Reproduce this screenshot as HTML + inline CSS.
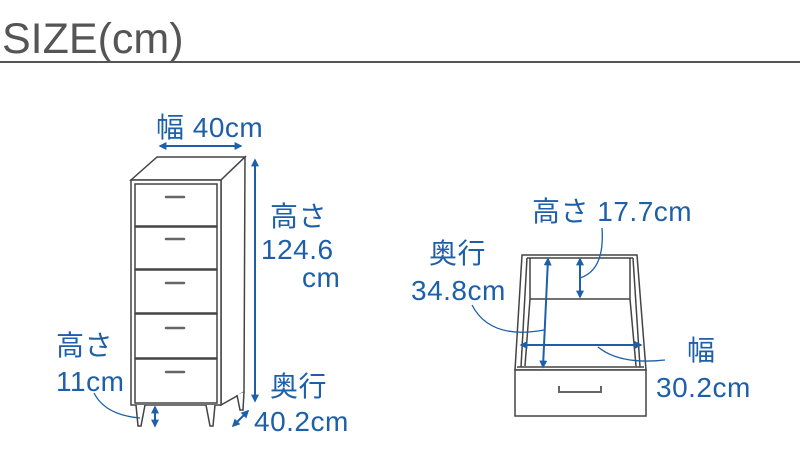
<!DOCTYPE html>
<html><head><meta charset="utf-8"><style>
html,body{margin:0;padding:0;background:#fff;}
svg{display:block}
text{font-family:"Liberation Sans","Noto Sans CJK JP",sans-serif;}
.b{fill:#1d5fa8;font-size:28px;letter-spacing:0.5px;}
</style></head><body>
<svg width="800" height="476" viewBox="0 0 800 476" xmlns="http://www.w3.org/2000/svg">
<defs>
<marker id="a" viewBox="0 0 10 10" refX="8" refY="5" markerWidth="4" markerHeight="4" orient="auto-start-reverse"><path d="M0,0 L10,5 L0,10 z" fill="#1d5fa8"/></marker>
</defs>
<text x="2" y="53" font-size="43" fill="#555">SIZE(cm)</text>
<rect x="0" y="61" width="800" height="2" fill="#555"/>

<g stroke="#444" stroke-width="1.5" fill="#fff">
<polygon points="131,180 157,157 245,157 221,180"/>
<polygon points="221,180 245,157 244,392 221,405"/>
<rect x="131" y="180" width="90" height="225"/>
<rect x="135" y="184" width="82" height="42"/>
<rect x="135" y="227" width="82" height="42"/>
<rect x="135" y="270" width="82" height="43"/>
<rect x="135" y="314" width="82" height="44"/>
<rect x="135" y="359" width="82" height="44"/>
<path d="M136,405 L138,426 L141,426 L145,405"/>
<path d="M206,405 L210,426 L213,426 L215,405"/>
<path d="M237,395 L240,410 L243,410 L244,392"/>
</g>
<g stroke="#666" stroke-width="2.5" stroke-linecap="round">
<line x1="166" y1="197" x2="184" y2="197"/>
<line x1="166" y1="239" x2="184" y2="239"/>
<line x1="166" y1="283" x2="184" y2="283"/>
<line x1="166" y1="328" x2="184" y2="328"/>
<line x1="166" y1="372" x2="184" y2="372"/>
</g>
<g stroke="#1d5fa8" stroke-width="2" fill="none">
<line x1="160" y1="146" x2="241" y2="146" marker-start="url(#a)" marker-end="url(#a)"/>
<line x1="255" y1="160" x2="255" y2="401" marker-start="url(#a)" marker-end="url(#a)"/>
<line x1="233" y1="426" x2="248" y2="411" marker-start="url(#a)" marker-end="url(#a)"/>
<line x1="155" y1="407" x2="155" y2="426" marker-start="url(#a)" marker-end="url(#a)"/>
<path d="M94,393 Q105,415 140,418" stroke-width="1.3"/>
</g>
<text class="b" x="156" y="137">幅 40cm</text>
<text class="b" x="270" y="226">高さ</text>
<text class="b" x="261" y="259">124.6</text>
<text class="b" x="302" y="287">cm</text>
<text class="b" x="270" y="396">奥行</text>
<text class="b" x="254" y="431">40.2cm</text>
<text class="b" x="56" y="355">高さ</text>
<text class="b" x="56" y="391">11cm</text>

<g stroke="#444" stroke-width="1.5" fill="#fff">
<polygon points="522,255 637,255 646,370 515,370"/>
<line x1="527" y1="258" x2="633" y2="258"/>
<line x1="530" y1="258" x2="530" y2="299"/>
<line x1="630" y1="258" x2="630" y2="299"/>
<line x1="530" y1="299" x2="630" y2="299"/>
<line x1="527" y1="258" x2="521" y2="367"/>
<line x1="633" y1="258" x2="640" y2="367"/>
<line x1="530" y1="299" x2="525" y2="366"/>
<line x1="630" y1="299" x2="636" y2="366"/>
<rect x="515" y="370" width="131" height="46"/>
<line x1="517" y1="367" x2="644" y2="367"/>
<path d="M559,386 L559,392 L601,392 L601,386" fill="none" stroke="#666" stroke-width="2"/>
</g>
<g stroke="#1d5fa8" stroke-width="2" fill="none">
<line x1="548" y1="259" x2="543" y2="367" marker-start="url(#a)" marker-end="url(#a)"/>
<line x1="580" y1="259" x2="580" y2="297" marker-start="url(#a)" marker-end="url(#a)"/>
<line x1="521" y1="345" x2="641" y2="345" marker-start="url(#a)" marker-end="url(#a)"/>
<path d="M580,278 Q605,270 602,228" stroke-width="1.3"/>
<path d="M544,330 Q490,340 472,305" stroke-width="1.3"/>
<path d="M598,347 Q620,365 665,360" stroke-width="1.3"/>
</g>
<text class="b" x="532" y="221">高さ 17.7cm</text>
<text class="b" x="429" y="263">奥行</text>
<text class="b" x="411" y="300">34.8cm</text>
<text class="b" x="687" y="360">幅</text>
<text class="b" x="656" y="397">30.2cm</text>
</svg>
</body></html>
